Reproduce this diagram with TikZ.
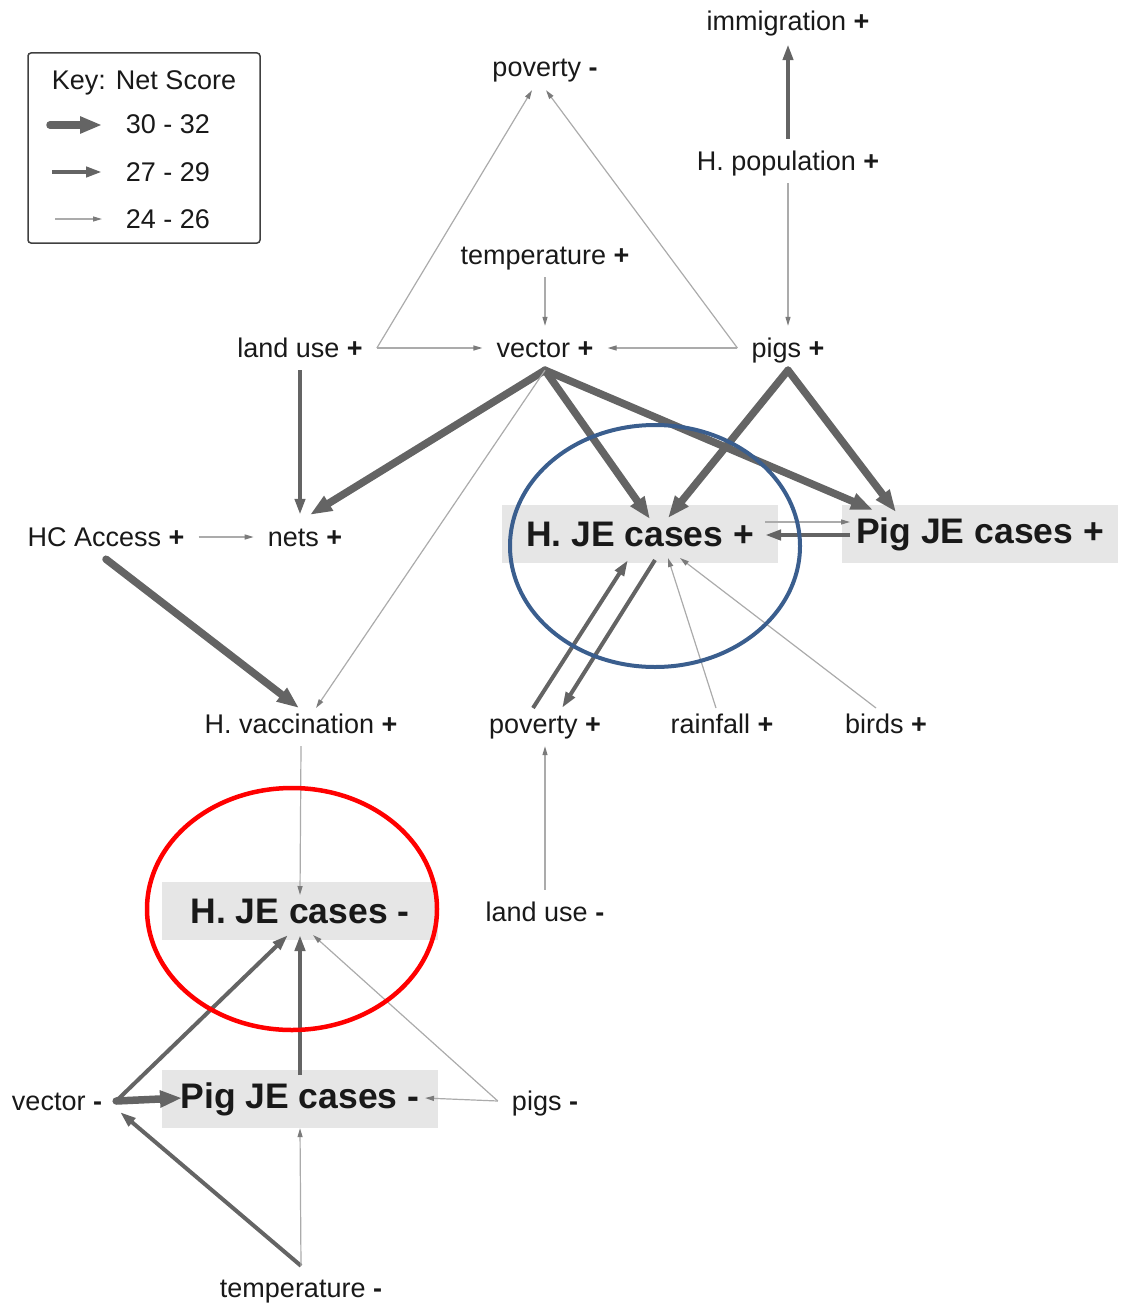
\documentclass[tikz,border=0pt]{standalone}
\usepackage{fontspec}
\setmainfont{Liberation Sans}
\usetikzlibrary{arrows.meta}
\definecolor{edgeDark}{HTML}{646464}
\definecolor{edgeLight}{HTML}{ABABAB}
\definecolor{boxGrey}{HTML}{E6E6E6}
\definecolor{ringBlue}{HTML}{3A5E8E}
\definecolor{ringRed}{HTML}{FF0000}
\newcommand{\jeTerm}[2]{#1 \textbf{#2}}

\begin{document}
\begin{tikzpicture}[x=1pt,y=-1pt,
  factor/.style={inner xsep=14pt, inner ysep=9pt, text height=22pt, text depth=4pt,
    text=black!90, font=\fontsize{27}{32}\selectfont},
  outcome/.style={fill=boxGrey, minimum width=276pt, minimum height=58pt, inner sep=0pt,
    text=black!90, font=\fontsize{35.5}{40}\selectfont\bfseries},
  bigedge/.style={draw=edgeDark, line width=7.5pt, line cap=round, -{Triangle[length=22pt,width=16pt]}},
  midedge/.style={draw=edgeDark, line width=4pt, -{Triangle[length=16pt,width=10pt]}},
  thinedge/.style={draw=edgeLight, line width=1.2pt, -{Triangle[length=9pt,width=5pt,color=edgeDark!85]}}]
\useasboundingbox (0,0) rectangle (1125,1303);

\node[factor] (immip) at (788,22) {\jeTerm{immigration}{+}};
\node[factor] (povm) at (545,68) {\jeTerm{poverty}{-}};
\node[factor] (hpopp) at (788,161) {\jeTerm{H. population}{+}};
\node[factor] (tempp) at (545,255) {\jeTerm{temperature}{+}};
\node[factor] (landp) at (300,348) {\jeTerm{land use}{+}};
\node[factor] (vecp) at (545,348) {\jeTerm{vector}{+}};
\node[factor] (pigsp) at (788,348) {\jeTerm{pigs}{+}};
\node[factor] (hcap) at (106,537) {\jeTerm{HC Access}{+}};
\node[factor] (netsp) at (305,537) {\jeTerm{nets}{+}};
\node[outcome] (hjep) at (640,534) {H. JE cases +};
\node[outcome] (pigjep) at (980,534) {Pig JE cases +};
\node[factor] (hvacp) at (301,724) {\jeTerm{H. vaccination}{+}};
\node[factor] (povp) at (545,724) {\jeTerm{poverty}{+}};
\node[factor] (rainp) at (722,724) {\jeTerm{rainfall}{+}};
\node[factor] (birdp) at (886,724) {\jeTerm{birds}{+}};
\node[outcome] (hjem) at (300,911) {H. JE cases -};
\node[factor] (landm) at (545,912) {\jeTerm{land use}{-}};
\node[outcome] (pigjem) at (300,1099) {Pig JE cases -};
\node[factor] (vecm) at (57,1101) {\jeTerm{vector}{-}};
\node[factor] (pigm) at (545,1101) {\jeTerm{pigs}{-}};
\node[factor] (tempm) at (301,1288) {\jeTerm{temperature}{-}};

\draw[midedge] (hpopp) -- (immip);
\draw[thinedge] (hpopp) -- (pigsp);
\draw[thinedge] (landp.east) -- ([xshift=-13pt]povm.south);
\draw[thinedge] (pigsp.west) -- ([xshift=1pt]povm.south);
\draw[thinedge] (tempp) -- (vecp);
\draw[thinedge] (landp) -- (vecp);
\draw[thinedge] (pigsp) -- (vecp);

\draw[midedge] (landp.south) -- (landp.south |- netsp.north);
\draw[bigedge] (vecp.south) -- ([xshift=5pt]netsp.north);
\draw[bigedge] (vecp.south) -- ([shift={(10,-15)}]hjep.center);
\draw[bigedge] (vecp.south) -- ([shift={(-107,-24)}]pigjep.center);
\draw[thinedge] (vecp.south) -- ([shift={(15,-16)}]hvacp.center);
\draw[bigedge] (pigsp.south) -- ([shift={(28,-16)}]hjep.center);
\draw[bigedge] (pigsp.south) -- ([shift={(-84,-22)}]pigjep.center);
\draw[thinedge] (hcap) -- (netsp);
\draw[bigedge] (hcap.south) -- ([shift={(-2,-16)}]hvacp.center);
\draw[thinedge] ([shift={(125,-12)}]hjep.center) -- ([shift={(-130,-12)}]pigjep.center);
\draw[midedge] ([shift={(-130,1)}]pigjep.center) -- ([shift={(125,1)}]hjep.center);

\draw[midedge] ([shift={(-12,-16)}]povp.center) -- ([shift={(-12,26)}]hjep.center);
\draw[midedge] ([shift={(15,26)}]hjep.center) -- ([shift={(17,-16)}]povp.center);
\draw[thinedge] ([shift={(-6,-16)}]rainp.center) -- ([shift={(28,24)}]hjep.center);
\draw[thinedge] ([shift={(-10,-16)}]birdp.center) -- ([shift={(40,24)}]hjep.center);
\draw[thinedge] (landm) -- (povp);
\draw[thinedge] (hvacp.south) -- ([shift={(0,-16)}]hjem.center);

\draw[midedge] (vecm.east) -- ([shift={(-12,24)}]hjem.center);
\draw[midedge] ([shift={(0,-24)}]pigjem.center) -- ([shift={(0,24)}]hjem.center);
\draw[thinedge] (pigm.west) -- ([shift={(13,24)}]hjem.center);
\draw[thinedge] (pigm.west) -- ([shift={(125,-1)}]pigjem.center);
\draw[bigedge] (vecm.east) -- ([shift={(-118,-1)}]pigjem.center);
\draw[midedge] (tempm.north) -- ([shift={(63,11)}]vecm.center);
\draw[thinedge] (tempm.north) -- (pigjem.south);

\draw[ringBlue, line width=4pt] (655,546) ellipse [x radius=145pt, y radius=121pt];
\draw[ringRed, line width=4.5pt] (292,909) ellipse [x radius=145pt, y radius=121pt];

\draw[black!75, line width=1.5pt, rounded corners=3pt] (28,53) rectangle (260,243);
\node[factor] (keyhead) at (144,81) {Key: Net Score};
\node[factor] (keyhi) at (168,125) {30 - 32};
\node[factor] (keymid) at (168,172) {27 - 29};
\node[factor] (keylow) at (168,219) {24 - 26};
\draw[bigedge] ([xshift=-118pt]keyhi.center) -- ([xshift=-66pt]keyhi.center);
\draw[midedge] ([xshift=-116pt]keymid.center) -- ([xshift=-66pt]keymid.center);
\draw[thinedge] ([xshift=-113pt]keylow.center) -- ([xshift=-66pt]keylow.center);
\end{tikzpicture}
\end{document}
